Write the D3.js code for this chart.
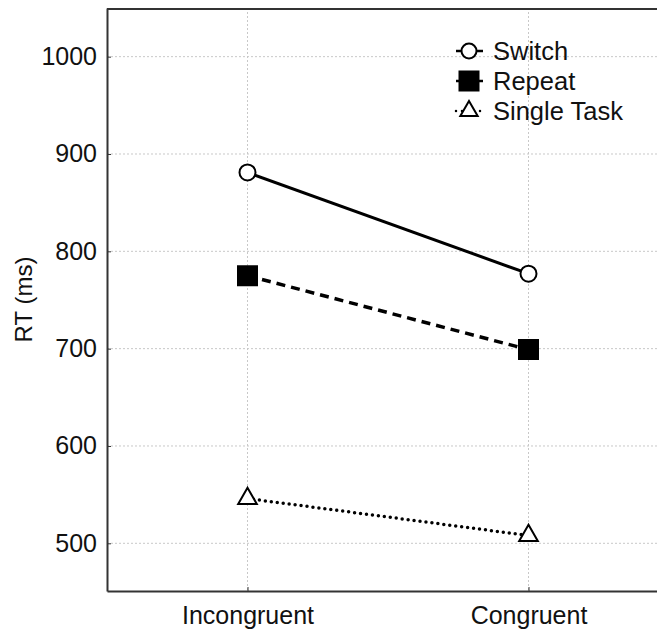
<!DOCTYPE html>
<html>
<head>
<meta charset="utf-8">
<script src="https://cdnjs.cloudflare.com/ajax/libs/d3/7.8.5/d3.min.js"></script>
<style>
	body { margin: 0; background: #fff; }
	text { font-family: "Liberation Sans", Arial, sans-serif; fill: #111; }
</style>
</head>
<body>
<svg id="chart" width="657" height="630"></svg>
<script>
// chart data
const conditions = ["Incongruent", "Congruent"];
const switchRT = [881, 777];
const repeatRT = [775, 699];
const singleRT = [546, 508];
const yTicks = [500, 600, 700, 800, 900, 1000];
const seriesNames = ["Switch", "Repeat", "Single Task"];

const width = 657;
const height = 630;
const margin = { left: 107, top: 8, right: 669, bottom: 591 };

let svg = d3.select("#chart");

let x = d3.scalePoint()
	.domain(conditions)
	.range([margin.left, margin.right])
	.padding(0.5);

let y = d3.scaleLinear()
	.domain([451, 1050])
	.range([margin.bottom, margin.top]);

// grid lines
let grid = svg.append("g").attr("class", "grid");
grid.selectAll("line.h")
	.data(yTicks)
	.enter()
	.append("line")
	.attr("x1", margin.left)
	.attr("x2", margin.right)
	.attr("y1", d => y(d))
	.attr("y2", d => y(d))
	.attr("stroke", "#c8c8c8")
	.attr("stroke-width", 1)
	.attr("stroke-dasharray", "2,2");
grid.selectAll("line.v")
	.data(conditions)
	.enter()
	.append("line")
	.attr("x1", d => x(d))
	.attr("x2", d => x(d))
	.attr("y1", margin.top)
	.attr("y2", margin.bottom)
	.attr("stroke", "#c8c8c8")
	.attr("stroke-width", 1)
	.attr("stroke-dasharray", "2,2");

// axes
let yAxis = svg.append("g")
	.attr("transform", "translate(" + margin.left + ",0)")
	.call(d3.axisLeft(y).tickValues(yTicks).tickFormat(d3.format("d")).tickSizeInner(-4).tickSizeOuter(0).tickPadding(10));
let xAxis = svg.append("g")
	.attr("transform", "translate(0," + margin.bottom + ")")
	.call(d3.axisBottom(x).tickSizeInner(-4).tickSizeOuter(0).tickPadding(9));

[yAxis, xAxis].forEach(function(ax) {
	ax.select(".domain").attr("stroke", "#333").attr("stroke-width", 2);
	ax.selectAll(".tick line").attr("stroke", "#333").attr("stroke-width", 1);
	ax.selectAll(".tick text")
		.attr("font-size", "25px")
		.attr("fill", "#111")
		.attr("font-family", "Liberation Sans, Arial, sans-serif");
});
xAxis.selectAll(".tick text").attr("dy", "0.95em");

// top border
svg.append("line")
	.attr("x1", margin.left)
	.attr("x2", margin.right)
	.attr("y1", margin.top + 1)
	.attr("y2", margin.top + 1)
	.attr("stroke", "#333")
	.attr("stroke-width", 2);

// y axis title
svg.append("text")
	.attr("transform", "translate(32," + ((margin.top + margin.bottom) / 2) + ") rotate(-90)")
	.attr("text-anchor", "middle")
	.attr("font-size", "24px")
	.text("RT (ms)");

let line = d3.line()
	.x((d, i) => x(conditions[i]))
	.y(d => y(d));

let symCircle = d3.symbol().type(d3.symbolCircle).size(Math.PI * 8 * 8);
let symSquare = d3.symbol().type(d3.symbolSquare).size(19 * 19);
let symTriangle = d3.symbol().type(d3.symbolTriangle).size(150);

function drawSeries(values, dash, width, symbol, fill) {
	svg.append("path")
		.datum(values)
		.attr("d", line)
		.attr("fill", "none")
		.attr("stroke", "#000")
		.attr("stroke-width", width)
		.attr("stroke-dasharray", dash)
		.attr("stroke-linecap", dash === "0,6" ? "round" : "butt");

	svg.selectAll(null)
		.data(values)
		.enter()
		.append("path")
		.attr("d", symbol)
		.attr("transform", (d, i) => "translate(" + x(conditions[i]) + "," + y(d) + ")")
		.attr("fill", fill)
		.attr("stroke", "#000")
		.attr("stroke-width", 2);
}

drawSeries(switchRT, null, 3, symCircle, "#fff");
drawSeries(repeatRT, "9,6", 3.5, symSquare, "#000");
drawSeries(singleRT, "0,6", 3.5, symTriangle, "#fff");

// legend
let legendRows = [
	{ name: seriesNames[0], dash: null, symbol: d3.symbol().type(d3.symbolCircle).size(Math.PI * 7.5 * 7.5), fill: "#fff" },
	{ name: seriesNames[1], dash: null, symbol: d3.symbol().type(d3.symbolSquare).size(19 * 19), fill: "#000" },
	{ name: seriesNames[2], dash: "0,6", symbol: d3.symbol().type(d3.symbolTriangle).size(130), fill: "#fff" }
];

let legend = svg.append("g").attr("transform", "translate(455,51)");
let row = legend.selectAll("g")
	.data(legendRows)
	.enter()
	.append("g")
	.attr("transform", (d, i) => "translate(0," + (i * 30) + ")");

row.append("line")
	.attr("x1", 1)
	.attr("x2", 28)
	.attr("stroke", "#000")
	.attr("stroke-width", 2.5)
	.attr("stroke-dasharray", d => d.dash)
	.attr("stroke-linecap", d => d.dash ? "round" : "butt");
row.append("path")
	.attr("d", d => d.symbol())
	.attr("transform", "translate(14,0)")
	.attr("fill", d => d.fill)
	.attr("stroke", "#000")
	.attr("stroke-width", 2);
row.append("text")
	.attr("x", 38)
	.attr("y", 9)
	.attr("font-size", "25.5px")
	.text(d => d.name);
</script>
</body>
</html>
